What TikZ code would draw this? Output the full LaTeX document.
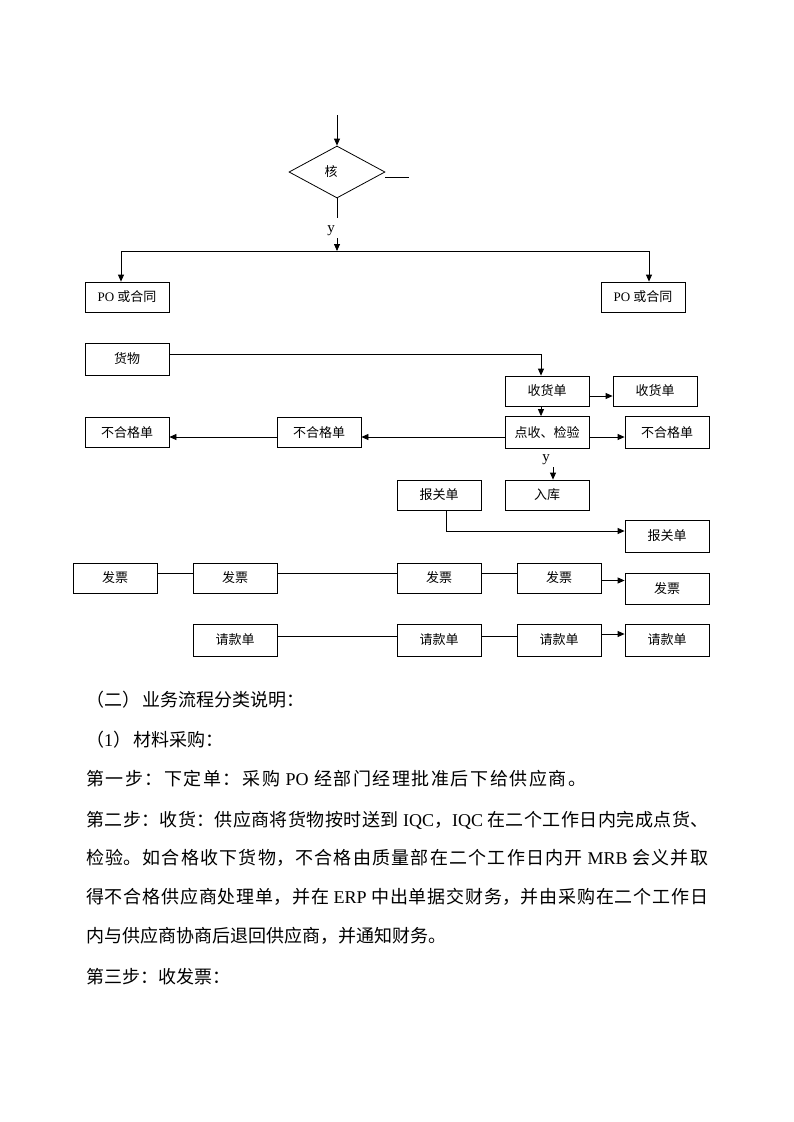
\documentclass[tikz,border=0pt]{standalone}
\usepackage{fontspec}
\setmainfont{Noto Sans CJK SC}
\newfontfamily\lat{Liberation Serif}
\usetikzlibrary{shapes.geometric,arrows.meta}
\newcommand\gp{\hfil}
\begin{document}
\begin{tikzpicture}[x=1pt,y=-1pt,
  box/.style={draw,line width=0.8pt,minimum width=84pt,minimum height=31pt,inner sep=0pt,font=\fontsize{13}{15}\selectfont},
  ln/.style={line width=0.8pt},
  arr/.style={line width=0.8pt,-{Triangle[length=7pt,width=6pt]}},
  lbl/.style={font=\lat\fontsize{15}{17}\selectfont,inner sep=0pt},
  body/.style={anchor=base west,inner sep=0pt,font=\fontsize{18}{38.8}\selectfont}]
\path[use as bounding box,fill=white] (0,0) rectangle (793,1122);

% decision
\node[draw,line width=0.8pt,diamond,minimum width=96pt,minimum height=52pt,inner sep=0pt,font=\fontsize{13}{15}\selectfont] (dia) at (337,172) {核\kern12pt};
\coordinate (top) at (337,115);
\draw[arr] (top) -- (dia.north);
\coordinate (stub) at (409,177);
\draw[ln] ([yshift=-5pt]dia.east) -- (stub);
\coordinate (b1) at (337,218);
\draw[ln] (dia.south) -- (b1);
\node[lbl] (y1) at (331,231) {y};
\coordinate (a1) at (337,238);
\coordinate (j) at (337,251);
\draw[arr] (a1) -- (j);

% PO boxes
\node[box,minimum height=30pt] (po1) at (127,297) {{\lat PO} 或合同};
\node[box,minimum height=30pt] (po2) at (643,297) {{\lat PO} 或合同};
\coordinate (jl) at (121,251);
\coordinate (jr) at (649,251);
\draw[ln] (jl) -- (jr);
\draw[arr] (jl) -- (jl |- po1.north);
\draw[arr] (jr) -- (jr |- po2.north);

% goods flow
\node[box,minimum height=32pt] (goods) at (127,359) {货物};
\node[box,minimum height=30pt] (rcv) at (547,391) {收货单};
\node[box,minimum height=30pt] (rcv2) at (655,391) {收货单};
\node[box,minimum height=32pt] (chk) at (547,432.5) {点收、检验};
\node[box,minimum height=32pt] (ng3) at (667,432.5) {不合格单};
\node[box,minimum height=30pt] (ng2) at (319,432.5) {不合格单};
\node[box,minimum height=30pt] (ng1) at (127,432.5) {不合格单};
\coordinate (g1) at (541,354);
\draw[arr] (goods.east |- g1) -- (g1) -- (g1 |- rcv.north);
\draw[arr] ([yshift=-5pt]rcv.east) -- ([yshift=-5pt]rcv2.west);
\draw[arr] ([xshift=-6pt]rcv.south) -- ([xshift=-6pt]chk.north);
\draw[arr] ([yshift=-4.5pt]chk.east) -- ([yshift=-4.5pt]ng3.west);
\draw[arr] ([yshift=-4.5pt]chk.west) -- ([yshift=-4.5pt]ng2.east);
\draw[arr] ([yshift=-4.5pt]ng2.west) -- ([yshift=-4.5pt]ng1.east);

% warehouse / customs
\node[box,minimum height=30pt] (in) at (547,495) {入库};
\node[box,minimum height=30pt] (bg1) at (439,495) {报关单};
\node[box,minimum height=32pt] (bg2) at (667,536) {报关单};
\node[lbl] (y2) at (546,460) {y};
\coordinate (a2) at (553,467);
\draw[arr] (a2) -- (a2 |- in.north);
\coordinate (c2) at (446,531);
\draw[arr] (c2 |- bg1.south) -- (c2) -- (c2 -| bg2.west);

% invoices
\node[box,minimum height=30pt] (fp1) at (115,578) {发票};
\node[box,minimum height=30pt] (fp2) at (235,578) {发票};
\node[box,minimum height=30pt] (fp3) at (439,578) {发票};
\node[box,minimum height=30pt] (fp4) at (559,578) {发票};
\node[box,minimum height=31pt] (fp5) at (667,588.5) {发票};
\draw[ln] ([yshift=5pt]fp1.east) -- ([yshift=5pt]fp2.west);
\draw[ln] ([yshift=5pt]fp2.east) -- ([yshift=5pt]fp3.west);
\draw[ln] ([yshift=5pt]fp3.east) -- ([yshift=5pt]fp4.west);
\draw[arr] ([yshift=-2.5pt]fp4.east) -- ([yshift=-2.5pt]fp4.east -| fp5.west);

% payment requests
\node[box,minimum height=32pt] (qk1) at (235,640) {请款单};
\node[box,minimum height=32pt] (qk2) at (439,640) {请款单};
\node[box,minimum height=32pt] (qk3) at (559,640) {请款单};
\node[box,minimum height=32pt] (qk4) at (667,640) {请款单};
\draw[ln] ([yshift=4pt]qk1.east) -- ([yshift=4pt]qk2.west);
\draw[ln] ([yshift=4pt]qk2.east) -- ([yshift=4pt]qk3.west);
\draw[arr] ([yshift=6pt]qk3.east) -- ([yshift=6pt]qk4.west);

% text
\node[body] (t1) at (86,706) {（二）\hspace{2pt}业务流程分类说明：};
\node[body] (t2) at (86,746) {（{\lat 1}）\hspace{2pt}材料采购：};
\node[body] (t3) at (86,785) {\hbox to 500pt{第\gp 一\gp 步\gp ：\gp 下\gp 定\gp 单\gp ：\gp 采\gp 购\gp\hspace{4pt}{\lat PO}\hspace{4pt}\gp 经\gp 部\gp 门\gp 经\gp 理\gp 批\gp 准\gp 后\gp 下\gp 给\gp 供\gp 应\gp 商\gp 。}};
\node[body,text width=622pt,align=justify] (t4) at (86,826) {\XeTeXlinebreaklocale "zh"\XeTeXlinebreakskip=0pt plus 3pt minus 0.6pt\relax
第二步：收货：供应商将货物按时送到 {\lat IQC}，{\lat IQC} 在二个工作日内完成点货、\linebreak
检验。如合格收下货物，不合格由质量部在二个工作日内开 {\lat MRB} 会义并取\linebreak
得不合格供应商处理单，并在 {\lat ERP} 中出单据交财务，并由采购在二个工作日\linebreak
内与供应商协商后退回供应商，并通知财务。};
\node[body] (t5) at (86,983) {第三步：收发票：};
\end{tikzpicture}
\end{document}
